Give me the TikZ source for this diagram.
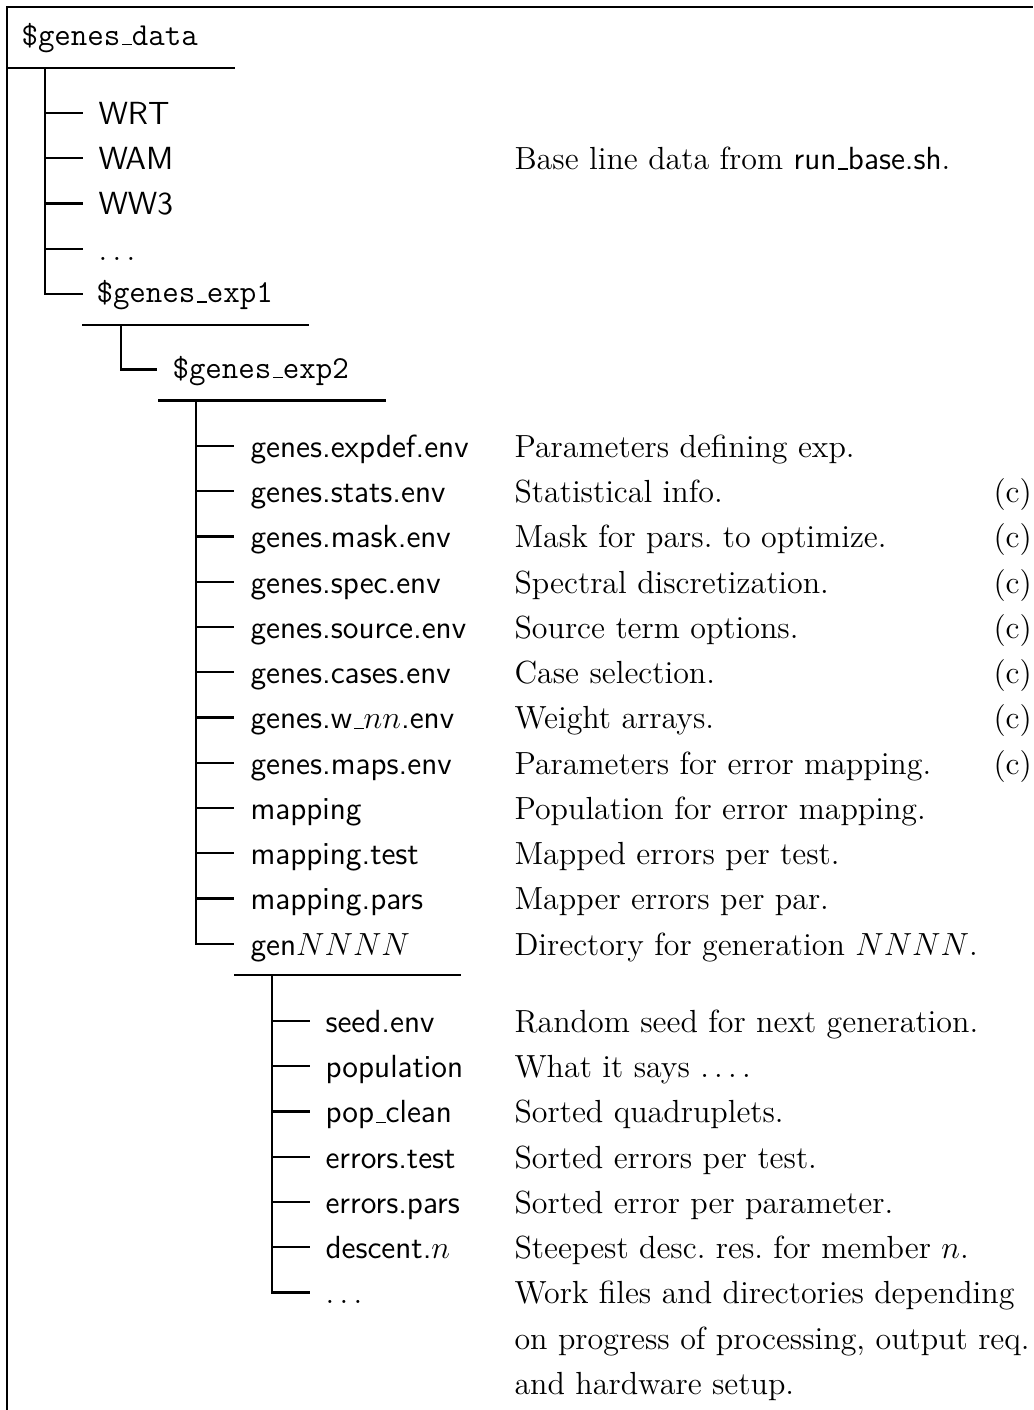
\documentclass[tikz,border=0pt]{standalone}
\newcommand\treefont{\fontsize{12pt}{16.97pt}\selectfont}
\newcommand\ulbar{\leavevmode\kern.06em\vbox{\hrule width.3em height.5pt}}
\newcommand\spdots{.\kern\fontdimen3\font.\kern\fontdimen3\font.\kern\fontdimen3\font}
\tikzset{
  fname/.style={font=\treefont\sffamily,anchor=west,inner sep=0pt,
    text height=10pt,text depth=1.4pt},
  dname/.style={font=\treefont\ttfamily,anchor=west,inner sep=0pt,
    text height=9pt,text depth=2.6pt},
  desc/.style={font=\treefont,anchor=base west,inner sep=0pt,align=left},
  flag/.style={font=\treefont,anchor=base west,inner sep=0pt},
  rule/.style={line width=0.8pt},
  branch/.style={line width=0.8pt}
}

\begin{document}
\begin{tikzpicture}[x=0.375pt,y=-0.375pt]
  \useasboundingbox (0,0) rectangle (1033,1410);
  % frame
  \draw[rule,line join=miter] (7,1410) -- (7,7) -- (1033,7);
  \coordinate (dcol) at (514,0);
  \coordinate (ccol) at (993,0);

  % top level
  \node[dname] (data) at (21,36.5) {\$genes\ulbar data};
  \coordinate (r0a) at (7,68);
  \coordinate (r0b) at (235,68);
  \coordinate (t0) at (45,68);
  \draw[rule] (r0a) -- (r0b);
  \node[fname] (wrt) at (98,113) {WRT};
  \node[fname] (wam) at (98,158.25) {WAM};
  \node[fname] (ww3) at (98,203.5) {WW3};
  \node[fname] (dots0) at (98,248.75) {$\ldots$};
  \node[dname] (exp1) at (96,294) {\$genes\ulbar exp1};
  \draw[branch] (t0) -- (t0 |- exp1.west) -- ++(38,0);
  \foreach \n in {wrt,wam,ww3,dots0}
    \draw[branch] (t0 |- \n.west) -- ++(38,0);
  \node[desc] (d-wam) at (wam.base -| dcol) {Base line data from \textsf{run\ulbar base.sh}.};

  % experiment 1
  \coordinate (r1a) at (82,325);
  \coordinate (r1b) at (309,325);
  \coordinate (t1) at (121,325);
  \draw[rule] (r1a) -- (r1b);
  \node[dname] (exp2) at (172,369.5) {\$genes\ulbar exp2};
  \draw[branch] (t1) -- (t1 |- exp2.west) -- ++(36,0);

  % experiment 2
  \coordinate (r2a) at (158,400.5);
  \coordinate (r2b) at (386,400.5);
  \coordinate (t2) at (196,400.5);
  \draw[rule] (r2a) -- (r2b);
  \node[fname] (expdef) at (250,446) {genes.expdef.env};
  \node[fname] (stats) at (250,491.25) {genes.stats.env};
  \node[fname] (mask) at (250,536.5) {genes.mask.env};
  \node[fname] (spec) at (250,581.75) {genes.spec.env};
  \node[fname] (source) at (250,627) {genes.source.env};
  \node[fname] (cases) at (250,672.25) {genes.cases.env};
  \node[fname] (wnn) at (250,717.5) {genes.w\ulbar$nn$.env};
  \node[fname] (maps) at (250,762.75) {genes.maps.env};
  \node[fname] (mapping) at (250,808) {mapping};
  \node[fname] (mtest) at (250,853.25) {mapping.test};
  \node[fname] (mpars) at (250,898.5) {mapping.pars};
  \node[fname] (gen) at (250,943.75) {gen$NNNN$};
  \draw[branch] (t2) -- (t2 |- gen.west) -- ++(38,0);
  \foreach \n in {expdef,stats,mask,spec,source,cases,wnn,maps,mapping,mtest,mpars}
    \draw[branch] (t2 |- \n.west) -- ++(38,0);
  \node[desc] (d-expdef) at (expdef.base -| dcol) {Parameters defining exp.};
  \node[desc] (d-stats) at (stats.base -| dcol) {Statistical info.};
  \node[desc] (d-mask) at (mask.base -| dcol) {Mask for pars.\ to optimize.};
  \node[desc] (d-spec) at (spec.base -| dcol) {Spectral discretization.};
  \node[desc] (d-source) at (source.base -| dcol) {Source term options.};
  \node[desc] (d-cases) at (cases.base -| dcol) {Case selection.};
  \node[desc] (d-wnn) at (wnn.base -| dcol) {Weight arrays.};
  \node[desc] (d-maps) at (maps.base -| dcol) {Parameters for error mapping.};
  \node[desc] (d-mapping) at (mapping.base -| dcol) {Population for error mapping.};
  \node[desc] (d-mtest) at (mtest.base -| dcol) {Mapped errors per test.};
  \node[desc] (d-mpars) at (mpars.base -| dcol) {Mapper errors per par.};
  \node[desc] (d-gen) at (gen.base -| dcol) {Directory for generation $NNNN$.};
  \foreach \n in {stats,mask,spec,source,cases,wnn,maps}
    \node[flag] (c-\n) at (\n.base -| ccol) {(c)};

  % generation directory
  \coordinate (r3a) at (234,975);
  \coordinate (r3b) at (461,975);
  \coordinate (t3) at (272,975);
  \draw[rule] (r3a) -- (r3b);
  \node[fname] (seed) at (325,1021) {seed.env};
  \node[fname] (pop) at (325,1066.25) {population};
  \node[fname] (popc) at (325,1111.5) {pop\ulbar clean};
  \node[fname] (etest) at (325,1156.75) {errors.test};
  \node[fname] (epars) at (325,1202) {errors.pars};
  \node[fname] (descent) at (325,1247.25) {descent.$n$};
  \node[fname] (dots1) at (325,1292.5) {$\ldots$};
  \draw[branch] (t3) -- (t3 |- dots1.west) -- ++(38,0);
  \foreach \n in {seed,pop,popc,etest,epars,descent}
    \draw[branch] (t3 |- \n.west) -- ++(38,0);
  \node[desc] (d-seed) at (seed.base -| dcol) {Random seed for next generation.};
  \node[desc] (d-pop) at (pop.base -| dcol) {What it says \spdots.};
  \node[desc] (d-popc) at (popc.base -| dcol) {Sorted quadruplets.};
  \node[desc] (d-etest) at (etest.base -| dcol) {Sorted errors per test.};
  \node[desc] (d-epars) at (epars.base -| dcol) {Sorted error per parameter.};
  \node[desc] (d-descent) at (descent.base -| dcol) {Steepest desc.\ res.\ for member $n$.};
  \node[desc,yshift=-33.94pt] (d-dots1) at (dots1.base -| dcol) {Work files and directories depending\\
    on progress of processing, output req.\\and hardware setup.};
\end{tikzpicture}
\end{document}
